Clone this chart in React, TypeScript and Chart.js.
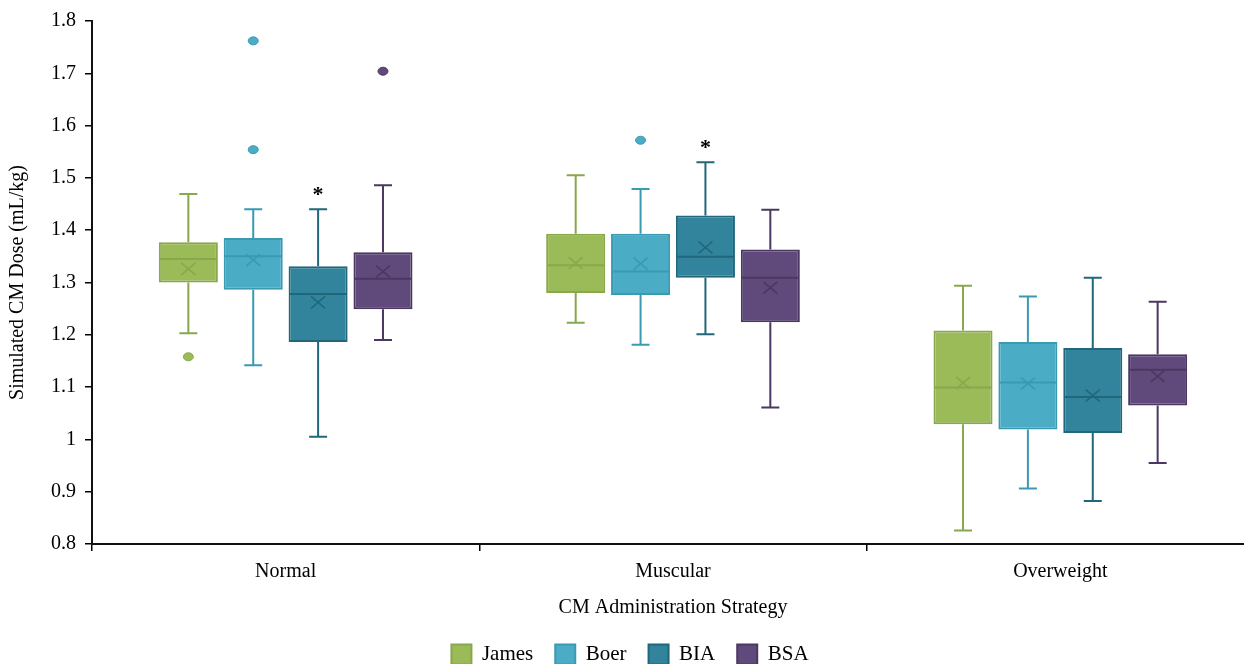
import React, { useEffect, useRef } from 'react';
import { Chart, registerables } from 'chart.js';

Chart.register(...registerables);

const categories = ['Normal', 'Muscular', 'Overweight'];
const seriesNames = ['James', 'Boer', 'BIA', 'BSA'];
const fillColors = ['#9BBB59', '#4BACC6', '#31849B', '#604A7B'];
const lineColors = ['#87A84C', '#3B99B2', '#21677B', '#4A3862'];

// [series][category]
const whiskerMin = [
  [1.203, 1.223, 0.826],
  [1.142, 1.181, 0.906],
  [1.005, 1.201, 0.882],
  [1.19, 1.061, 0.955],
];
const quartile1 = [
  [1.3, 1.28, 1.029],
  [1.286, 1.276, 1.019],
  [1.186, 1.309, 1.012],
  [1.249, 1.224, 1.065],
];
const medians = [
  [1.345, 1.333, 1.099],
  [1.35, 1.321, 1.109],
  [1.278, 1.349, 1.081],
  [1.307, 1.309, 1.133],
];
const quartile3 = [
  [1.377, 1.393, 1.208],
  [1.385, 1.393, 1.186],
  [1.331, 1.428, 1.175],
  [1.358, 1.363, 1.163],
];
const whiskerMax = [
  [1.469, 1.505, 1.294],
  [1.44, 1.479, 1.273],
  [1.44, 1.53, 1.309],
  [1.486, 1.439, 1.263],
];
const means = [
  [1.326, 1.337, 1.108],
  [1.343, 1.336, 1.107],
  [1.262, 1.367, 1.084],
  [1.321, 1.29, 1.121],
];
const outliers = [
  [[1.158], [], []],
  [[1.762, 1.554], [1.572], []],
  [[], [], []],
  [[1.704], [], []],
];
const significance = [
  ['', '', ''],
  ['', '', ''],
  ['*', '*', ''],
  ['', '', ''],
];

const FONT = "'Liberation Serif', 'Times New Roman', serif";

const boxPlugin = {
  id: 'boxExtras',
  afterDatasetsDraw(chart: any) {
    const ctx = chart.ctx;
    const y = chart.scales.y;
    chart.data.datasets.forEach((_ds: any, s: number) => {
      const meta = chart.getDatasetMeta(s);
      meta.data.forEach((bar: any, c: number) => {
        const x = bar.x;
        const w = bar.width;
        const col = lineColors[s];
        const yMin = y.getPixelForValue(whiskerMin[s][c]);
        const yMax = y.getPixelForValue(whiskerMax[s][c]);
        const yQ1 = y.getPixelForValue(quartile1[s][c]);
        const yQ3 = y.getPixelForValue(quartile3[s][c]);
        const yMed = y.getPixelForValue(medians[s][c]);
        const yMean = y.getPixelForValue(means[s][c]);
        ctx.save();
        ctx.strokeStyle = col;
        ctx.lineWidth = 2;
        ctx.beginPath();
        ctx.moveTo(x, yQ3);
        ctx.lineTo(x, yMax);
        ctx.moveTo(x, yQ1);
        ctx.lineTo(x, yMin);
        ctx.moveTo(x - 9, yMax);
        ctx.lineTo(x + 9, yMax);
        ctx.moveTo(x - 9, yMin);
        ctx.lineTo(x + 9, yMin);
        ctx.moveTo(x - w / 2 + 1, yMed);
        ctx.lineTo(x + w / 2 - 1, yMed);
        ctx.stroke();
        // mean cross
        ctx.lineWidth = 1.6;
        const m = 7;
        ctx.beginPath();
        ctx.moveTo(x - m, yMean - m * 0.85);
        ctx.lineTo(x + m, yMean + m * 0.85);
        ctx.moveTo(x + m, yMean - m * 0.85);
        ctx.lineTo(x - m, yMean + m * 0.85);
        ctx.stroke();
        // outliers
        outliers[s][c].forEach((v) => {
          const py = y.getPixelForValue(v);
          ctx.beginPath();
          ctx.ellipse(x, py, 5, 4, 0, 0, Math.PI * 2);
          ctx.fillStyle = fillColors[s];
          ctx.fill();
          ctx.lineWidth = 1;
          ctx.strokeStyle = col;
          ctx.stroke();
        });
        // significance
        const sig = significance[s][c];
        if (sig) {
          ctx.fillStyle = '#000';
          ctx.font = `bold 22px ${FONT}`;
          ctx.textAlign = 'center';
          ctx.textBaseline = 'middle';
          ctx.fillText(sig, x, yMax - 14);
        }
        ctx.restore();
      });
    });
  },
};

export default function App() {
  const canvasRef = useRef<HTMLCanvasElement | null>(null);

  useEffect(() => {
    if (!canvasRef.current) return;
    const chart = new Chart(canvasRef.current, {
      type: 'bar',
      data: {
        labels: categories,
        datasets: seriesNames.map((name, s) => ({
          label: name,
          data: categories.map((_, c) => [quartile1[s][c], quartile3[s][c]]) as any,
          backgroundColor: fillColors[s],
          borderColor: lineColors[s],
          borderWidth: 2,
          borderSkipped: false,
          categoryPercentage: 0.67,
          barPercentage: 0.91,
        })),
      },
      options: {
        animation: false,
        responsive: true,
        maintainAspectRatio: false,
        layout: { padding: { top: 14, right: 2, bottom: 0, left: 6 } },
        plugins: {
          tooltip: { enabled: false },
          legend: {
            position: 'bottom',
            labels: {
              boxWidth: 20,
              boxHeight: 20,
              padding: 22,
              color: '#000',
              font: { family: FONT, size: 21 },
            },
          },
        },
        scales: {
          x: {
            grid: {
              display: true,
              drawOnChartArea: false,
              drawTicks: true,
              tickLength: 7,
              color: '#000',
              lineWidth: 1.5,
              offset: true,
            },
            border: { display: true, color: '#111', width: 2 },
            ticks: { color: '#000', padding: 9, font: { family: FONT, size: 20 } },
            title: {
              display: true,
              text: 'CM Administration Strategy',
              color: '#000',
              font: { family: FONT, size: 20 },
              padding: { top: 3, bottom: 2 },
            },
          },
          y: {
            min: 0.8,
            max: 1.8,
            grid: {
              display: true,
              drawOnChartArea: false,
              drawTicks: true,
              tickLength: 7,
              color: '#000',
              lineWidth: 1.5,
            },
            border: { display: true, color: '#111', width: 2 },
            ticks: {
              stepSize: 0.1,
              color: '#000',
              padding: 9,
              font: { family: FONT, size: 20 },
              callback: (v: any) => String(Number(Number(v).toFixed(1))),
            },
            title: {
              display: true,
              text: 'Simulated CM Dose (mL/kg)',
              color: '#000',
              font: { family: FONT, size: 20 },
              padding: { top: 0, bottom: 12 },
            },
          },
        },
      },
      plugins: [boxPlugin],
    });
    return () => chart.destroy();
  }, []);

  return (
    <div style={{ position: 'fixed', left: 0, top: 0, width: 1244, height: 664, overflow: 'hidden', background: '#fff' }}>
      <div style={{ position: 'absolute', left: 0, top: 0, width: 1256, height: 675 }}>
        <canvas ref={canvasRef} />
      </div>
    </div>
  );
}
